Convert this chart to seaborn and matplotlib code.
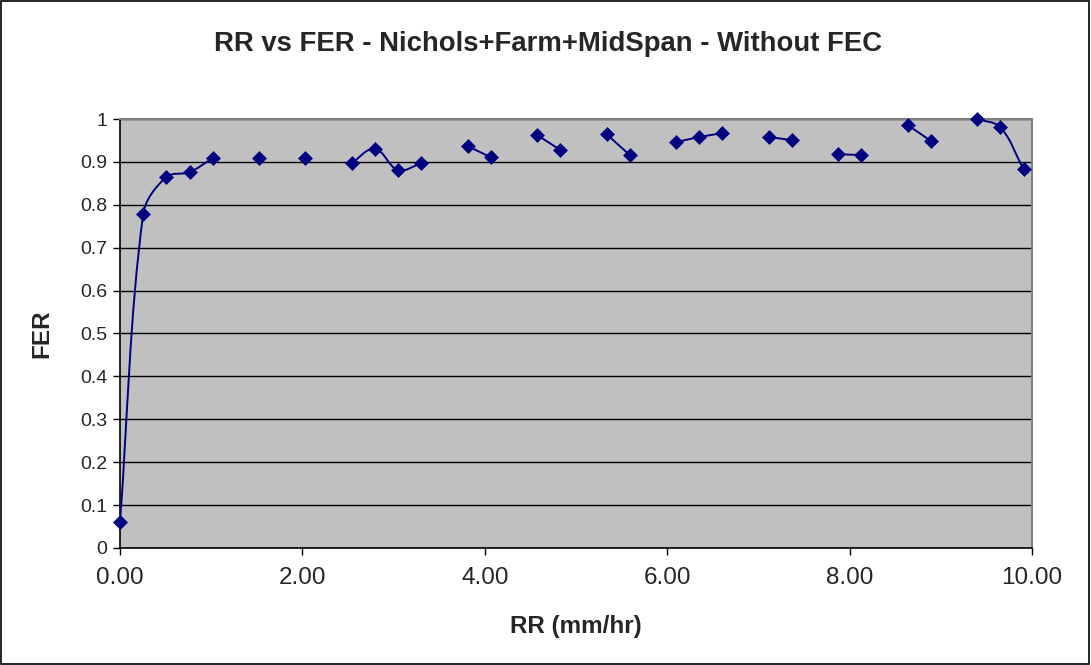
import numpy as np
import pandas as pd
import matplotlib
matplotlib.use("Agg")
import matplotlib.pyplot as plt
from matplotlib.path import Path
from matplotlib.patches import PathPatch, Rectangle
from matplotlib.ticker import FuncFormatter, MultipleLocator
import seaborn as sns

# rain rate (mm/hr) and FER; segment id marks the connected runs
rr = [0.0, 0.254, 0.508, 0.762, 1.016,
      1.524,
      2.032,
      2.54, 2.794, 3.048, 3.302,
      3.81, 4.064,
      4.572, 4.826,
      5.334, 5.588,
      6.096, 6.35, 6.604,
      7.112, 7.366,
      7.874, 8.128,
      8.636, 8.89,
      9.398, 9.652, 9.906]
fer = [0.061, 0.778, 0.865, 0.876, 0.909,
       0.909,
       0.909,
       0.897, 0.930, 0.881, 0.897,
       0.937, 0.911,
       0.963, 0.928,
       0.965, 0.916,
       0.946, 0.958, 0.967,
       0.958, 0.951,
       0.918, 0.916,
       0.986, 0.949,
       1.0, 0.981, 0.883]
segment = [0, 0, 0, 0, 0,
           1,
           2,
           3, 3, 3, 3,
           4, 4,
           5, 5,
           6, 6,
           7, 7, 7,
           8, 8,
           9, 9,
           10, 10,
           11, 11, 11]

df = pd.DataFrame({"RR": rr, "FER": fer, "seg": segment})
navy = "#000080"

sns.set_style("white")
plt.rcParams["font.family"] = ["Liberation Sans", "DejaVu Sans"]

fig = plt.figure(figsize=(10.91, 6.65), dpi=100)
ax = fig.add_axes([0.110, 0.176, 0.836, 0.645])
ax.set_facecolor("#C0C0C0")
ax.set_xlim(0, 10)
ax.set_ylim(0, 1)


def smooth_path(xs, ys):
    # Excel-like smoothed line, built in pixel space then mapped back to data
    pts = ax.transData.transform(np.column_stack([xs, ys]))
    n = len(pts)
    verts = [pts[0]]
    codes = [Path.MOVETO]
    for i in range(n - 1):
        p1, p2 = pts[i], pts[i + 1]
        p0 = pts[i - 1] if i > 0 else p1
        p3 = pts[i + 2] if i + 2 < n else p2
        d = np.hypot(*(p2 - p1)) / 3
        t1 = (p2 - p0) / np.hypot(*(p2 - p0))
        t2 = (p3 - p1) / np.hypot(*(p3 - p1))
        verts += [p1 + t1 * d, p2 - t2 * d, p2]
        codes += [Path.CURVE4] * 3
    verts = ax.transData.inverted().transform(np.array(verts))
    return Path(verts, codes)


for s, g in df.groupby("seg"):
    if len(g) > 1:
        ax.add_patch(PathPatch(smooth_path(g["RR"].values, g["FER"].values),
                               facecolor="none", edgecolor=navy, lw=1.4, zorder=3))

sns.scatterplot(data=df, x="RR", y="FER", marker="D", s=50, color=navy,
                edgecolor=navy, linewidth=0.5, ax=ax, zorder=4, clip_on=False)

ax.set_xlim(0, 10)
ax.set_ylim(0, 1)
ax.yaxis.set_major_locator(MultipleLocator(0.1))
ax.xaxis.set_major_locator(MultipleLocator(2))
ax.yaxis.set_major_formatter(FuncFormatter(lambda v, p: f"{v:g}"))
ax.xaxis.set_major_formatter(FuncFormatter(lambda v, p: f"{v:.2f}"))
ax.grid(axis="y", color="black", lw=1)
ax.set_axisbelow(True)

for side in ["top", "right"]:
    ax.spines[side].set_color("#808080")
    ax.spines[side].set_linewidth(1.5)
for side in ["left", "bottom"]:
    ax.spines[side].set_color("black")
    ax.spines[side].set_linewidth(1.2)

ax.tick_params(axis="both", direction="out", length=5, width=1, color="black",
               left=True, bottom=True)
ax.tick_params(axis="x", labelsize=17.5, pad=9)
ax.tick_params(axis="y", labelsize=14, pad=4)

ax.set_xlabel("RR (mm/hr)", fontsize=17.5, fontweight="bold", va="center")
ax.set_ylabel("FER", fontsize=17.5, fontweight="bold", va="center")
ax.xaxis.set_label_coords(0.5, -0.184)
ax.yaxis.set_label_coords(-0.0855, 0.5)
fig.text(0.502, 1 - 44 / 665, "RR vs FER - Nichols+Farm+MidSpan - Without FEC",
         fontsize=19.8, fontweight="bold", ha="center", va="center")

fig.patches.append(Rectangle((0.0005, 0.0008), 0.998, 0.998, transform=fig.transFigure,
                             fill=False, edgecolor="black", lw=1.2))

fig.savefig("out.png", dpi=100, facecolor="white")
